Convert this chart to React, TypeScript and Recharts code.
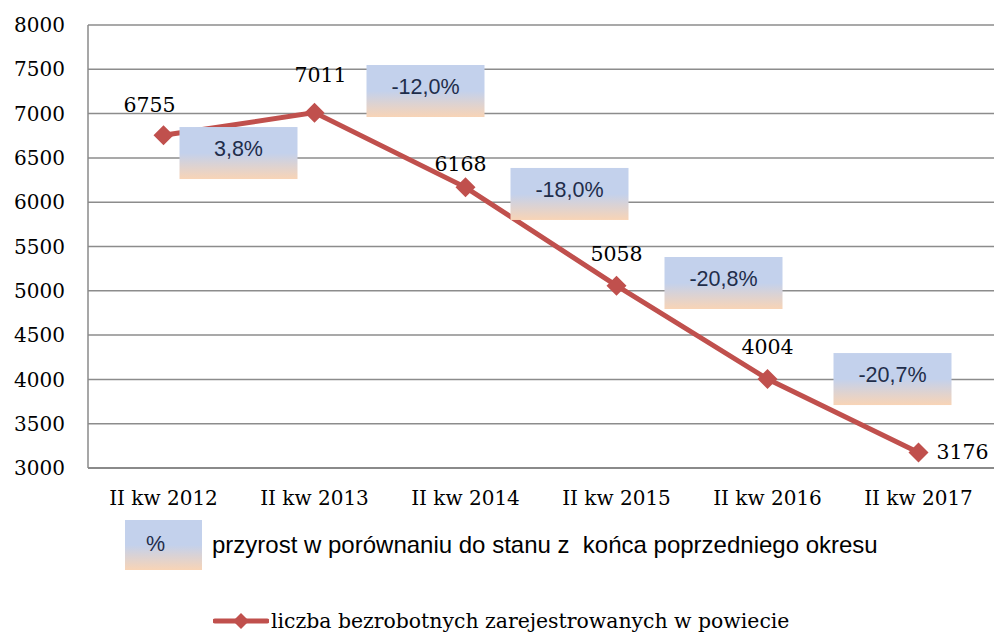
import { LineChart, Line, XAxis, YAxis, CartesianGrid, LabelList } from "recharts";

const periods = ["II kw 2012", "II kw 2013", "II kw 2014", "II kw 2015", "II kw 2016", "II kw 2017"];
const unemployed = [6755, 7011, 6168, 5058, 4004, 3176];
const changeLabels = [null, "3,8%", "-12,0%", "-18,0%", "-20,8%", "-20,7%"];
// level (in persons) at which each change box sits
const changeBoxLevel = [null, 6555, 7255, 6093, 5088, 4004];
const yTicks = [3000, 3500, 4000, 4500, 5000, 5500, 6000, 6500, 7000, 7500, 8000];

const data = periods.map((p, i) => ({
    period: p,
    count: unemployed[i],
    boxLevel: changeBoxLevel[i],
    change: changeLabels[i],
}));

const SERIF = "'DejaVu Serif', serif";
const SANS = "'Liberation Sans', Arial, sans-serif";
const RED = "#C0504D";

// horizontal shift of each change box from its category centre
const boxShift = [0, -76, -40, -47, -44, -26];
const labelShift = [
    [-14, -30],
    [6, -38],
    [-5, -23],
    [0, -32],
    [0, -32],
    [44, 0],
];

const Diamond = ({ cx, cy, size = 10 }: any) => (
    <path
        d={`M${cx},${cy - size} L${cx + size},${cy} L${cx},${cy + size} L${cx - size},${cy} Z`}
        fill={RED}
    />
);

const ChangeBox = (props: any) => {
    const { cx, cy, index, payload } = props;
    if (cx == null || cy == null || !payload.change) return <g key={`b${index}`} />;
    const w = 118;
    const h = 52;
    const x = cx + boxShift[index] - w / 2;
    return (
        <g key={`b${index}`}>
            <rect x={x} y={cy - h / 2} width={w} height={h} fill="url(#boxGrad)" />
            <text
                x={x + w / 2}
                y={cy - 4}
                textAnchor="middle"
                dominantBaseline="central"
                fontFamily={SANS}
                fontSize={21.5}
                fill="#1F2D4A"
            >
                {payload.change}
            </text>
        </g>
    );
};

const ValueLabel = ({ x, y, value, index }: any) => {
    const [dx, dy] = labelShift[index];
    return (
        <text
            x={x + dx}
            y={y + dy}
            textAnchor="middle"
            dominantBaseline="central"
            fontFamily={SERIF}
            fontSize={20.5}
            fill="#000"
        >
            {value}
        </text>
    );
};

export default function App() {
    return (
        <div style={{ position: "fixed", left: 0, top: 0, width: 994, height: 632, background: "#fff", overflow: "hidden" }}>
            <LineChart
                width={994}
                height={632}
                data={data}
                margin={{ top: 25, right: 0, left: 0, bottom: 0 }}
            >
                <defs>
                    <linearGradient id="boxGrad" x1="0" y1="0" x2="0" y2="1">
                        <stop offset="0%" stopColor="#C3D1EC" />
                        <stop offset="50%" stopColor="#C3D1EC" />
                        <stop offset="100%" stopColor="#F8D4B6" />
                    </linearGradient>
                </defs>
                <CartesianGrid vertical={false} stroke="#8C8C8C" strokeWidth={1.5} />
                <XAxis
                    dataKey="period"
                    scale="band"
                    height={164}
                    tickLine={false}
                    axisLine={{ stroke: "#8A8A8A", strokeWidth: 2 }}
                    tick={{ fill: "#000", fontFamily: SERIF, fontSize: 20, dy: 15 }}
                    interval={0}
                />
                <YAxis
                    width={88}
                    domain={[3000, 8000]}
                    ticks={yTicks}
                    tickLine={false}
                    axisLine={{ stroke: "#8A8A8A", strokeWidth: 1.5 }}
                    tick={{ fill: "#000", fontFamily: SERIF, fontSize: 20, dx: -15 }}
                />
                <Line
                    dataKey="count"
                    stroke={RED}
                    strokeWidth={5}
                    dot={(p: any) => <Diamond key={`d${p.index}`} cx={p.cx} cy={p.cy} />}
                    activeDot={false}
                    isAnimationActive={false}
                >
                    <LabelList dataKey="count" content={ValueLabel} />
                </Line>
                <Line
                    dataKey="boxLevel"
                    stroke="none"
                    dot={ChangeBox}
                    activeDot={false}
                    connectNulls={false}
                    isAnimationActive={false}
                />
            </LineChart>

            {/* legend */}
            <div style={{ position: "absolute", left: 125, top: 520, display: "flex", alignItems: "center" }}>
                <div
                    style={{
                        width: 77,
                        height: 50,
                        background: "linear-gradient(#C3D1EC 0%, #C3D1EC 50%, #F8D4B6 100%)",
                        fontFamily: SANS,
                        fontSize: 21.5,
                        color: "#1F2D4A",
                        display: "flex",
                        alignItems: "center",
                        justifyContent: "center",
                        paddingBottom: 2,
                        paddingRight: 16,
                        boxSizing: "border-box",
                    }}
                >
                    %
                </div>
                <span style={{ marginLeft: 10, fontFamily: SANS, fontSize: 24, color: "#000", whiteSpace: "pre" }}>
                    przyrost w porównaniu do stanu z  końca poprzedniego okresu
                </span>
            </div>
            <div style={{ position: "absolute", left: 213, top: 607, display: "flex", alignItems: "center" }}>
                <svg width={56} height={28}>
                    <line x1={2} y1={14} x2={54} y2={14} stroke={RED} strokeWidth={5} strokeLinecap="round" />
                    <Diamond cx={28} cy={14} size={8} />
                </svg>
                <span style={{ marginLeft: 2, fontFamily: SERIF, fontSize: 20.4, color: "#000", whiteSpace: "pre" }}>
                    liczba bezrobotnych zarejestrowanych w powiecie
                </span>
            </div>
        </div>
    );
}
